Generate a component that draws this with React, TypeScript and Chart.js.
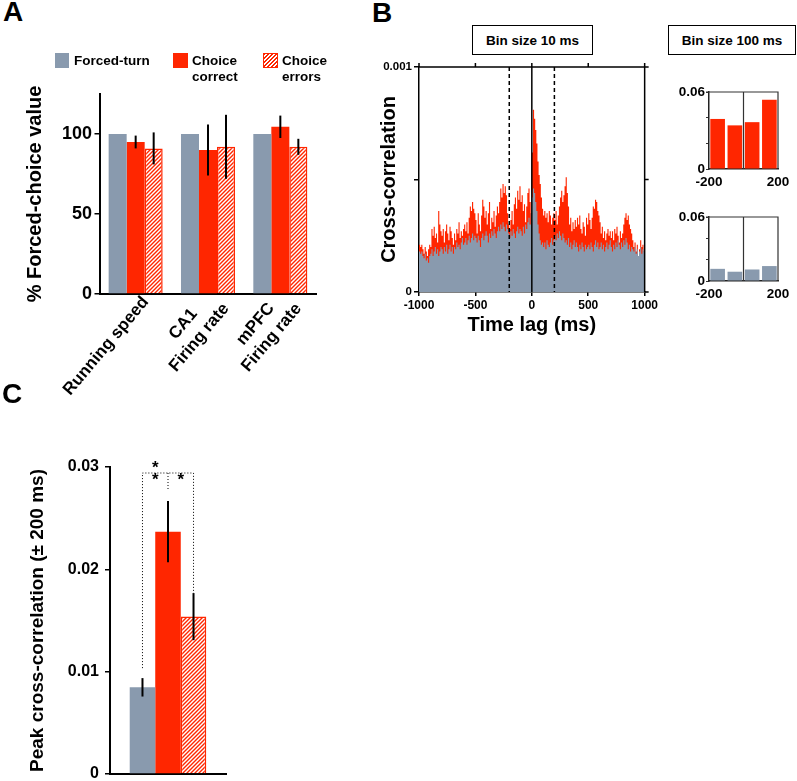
import React, { useEffect, useRef } from 'react';
import { Chart, registerables } from 'chart.js';

Chart.register(...registerables);

const FONT = '"Liberation Sans", Arial, Helvetica, sans-serif';
const RED = 'rgb(255,38,0)';
const GRAY = 'rgb(137,154,174)';

// ---------- Panel A ----------
const measuresA = [['Running speed'], ['CA1', 'Firing rate'], ['mPFC', 'Firing rate']];
const forcedTurnA = [100, 100, 100];
const choiceCorrectA = [95, 90, 104.5];
const choiceErrorsA = [91, 92, 92];
const choiceCorrectErrA = [4, 16, 7];
const choiceErrorsErrA = [10, 20, 5];
const yTicksA = [0, 50, 100];

// ---------- Panel B (10 ms bins from -1000 to +1000 ms, values x 1e-3) ----------
const choiceXcorr10 = [
  0.21, 0.20, 0.21, 0.19, 0.17, 0.20, 0.18, 0.16, 0.19, 0.21,
  0.20, 0.28, 0.25, 0.29, 0.24, 0.26, 0.22, 0.36, 0.30, 0.27,
  0.25, 0.28, 0.22, 0.27, 0.30, 0.26, 0.23, 0.29, 0.27, 0.24,
  0.21, 0.26, 0.23, 0.28, 0.26, 0.31, 0.24, 0.27, 0.25, 0.28,
  0.30, 0.27, 0.31, 0.26, 0.33, 0.38, 0.36, 0.40, 0.37, 0.35,
  0.32, 0.26, 0.35, 0.30, 0.27, 0.34, 0.41, 0.38, 0.33, 0.36,
  0.30, 0.35, 0.40, 0.28, 0.33, 0.31, 0.36, 0.29, 0.34, 0.38,
  0.35, 0.40, 0.46, 0.42, 0.48, 0.44, 0.47, 0.43, 0.35, 0.30,
  0.28, 0.32, 0.36, 0.30, 0.39, 0.42, 0.37, 0.45, 0.41, 0.47,
  0.40, 0.43, 0.36, 0.39, 0.31, 0.38, 0.44, 0.46, 0.40, 0.35,
  0.62, 0.81, 0.77, 0.72, 0.66, 0.58, 0.52, 0.48, 0.42, 0.37,
  0.34, 0.36, 0.33, 0.35, 0.31, 0.36, 0.34, 0.30, 0.33, 0.35,
  0.32, 0.36, 0.30, 0.34, 0.38, 0.42, 0.45, 0.40, 0.43, 0.47,
  0.51, 0.44, 0.38, 0.30, 0.33, 0.27, 0.31, 0.28, 0.32, 0.29,
  0.33, 0.30, 0.34, 0.28, 0.26, 0.31, 0.29, 0.25, 0.33, 0.30,
  0.35, 0.32, 0.28, 0.33, 0.38, 0.37, 0.41, 0.40, 0.36, 0.34,
  0.31, 0.26, 0.29, 0.24, 0.27, 0.23, 0.26, 0.28, 0.25, 0.27,
  0.24, 0.27, 0.23, 0.28, 0.26, 0.29, 0.25, 0.22, 0.27, 0.24,
  0.26, 0.30, 0.33, 0.35, 0.32, 0.34, 0.30, 0.28, 0.26, 0.23,
  0.20, 0.22, 0.18, 0.21, 0.16, 0.19, 0.23, 0.20, 0.21, 0.18,
];
const forcedXcorr10 = [
  0.18, 0.17, 0.18, 0.16, 0.15, 0.17, 0.14, 0.15, 0.13, 0.16,
  0.17, 0.19, 0.16, 0.18, 0.20, 0.17, 0.19, 0.16, 0.18, 0.20,
  0.19, 0.17, 0.20, 0.18, 0.21, 0.17, 0.19, 0.21, 0.18, 0.20,
  0.17, 0.20, 0.19, 0.22, 0.20, 0.21, 0.19, 0.22, 0.24, 0.21,
  0.22, 0.24, 0.21, 0.23, 0.25, 0.22, 0.24, 0.26, 0.23, 0.25,
  0.24, 0.22, 0.25, 0.23, 0.20, 0.24, 0.26, 0.23, 0.25, 0.27,
  0.25, 0.22, 0.26, 0.24, 0.27, 0.25, 0.28, 0.26, 0.24, 0.27,
  0.29, 0.27, 0.30, 0.28, 0.31, 0.29, 0.27, 0.30, 0.28, 0.26,
  0.24, 0.27, 0.25, 0.28, 0.26, 0.24, 0.27, 0.29, 0.26, 0.28,
  0.27, 0.25, 0.29, 0.26, 0.30, 0.28, 0.31, 0.33, 0.30, 0.35,
  0.42, 0.46, 0.44, 0.40, 0.36, 0.30, 0.26, 0.23, 0.21, 0.22,
  0.20, 0.22, 0.19, 0.23, 0.21, 0.20, 0.22, 0.24, 0.21, 0.23,
  0.25, 0.23, 0.26, 0.24, 0.27, 0.25, 0.23, 0.26, 0.24, 0.22,
  0.23, 0.21, 0.24, 0.20, 0.22, 0.19, 0.21, 0.23, 0.20, 0.22,
  0.20, 0.18, 0.21, 0.19, 0.22, 0.20, 0.18, 0.21, 0.19, 0.20,
  0.21, 0.19, 0.22, 0.20, 0.18, 0.21, 0.23, 0.20, 0.22, 0.19,
  0.20, 0.22, 0.19, 0.21, 0.18, 0.20, 0.22, 0.19, 0.21, 0.23,
  0.20, 0.18, 0.21, 0.19, 0.22, 0.20, 0.23, 0.21, 0.19, 0.22,
  0.20, 0.23, 0.21, 0.24, 0.22, 0.19, 0.21, 0.18, 0.20, 0.19,
  0.18, 0.20, 0.17, 0.19, 0.16, 0.18, 0.20, 0.17, 0.19, 0.18,
];
const lagStartMs = -1000;
const lagEndMs = 1000;
const binMs = 10;
const peakWindowMs = [-200, 200];

// 100 ms bins (-200..200 ms)
const lags100 = [-150, -50, 50, 150];
const choiceXcorr100 = [0.039, 0.034, 0.0365, 0.054];
const forcedXcorr100 = [0.0114, 0.0087, 0.0108, 0.014];

// ---------- Panel C ----------
const groupsC = ['Forced-turn', 'Choice correct', 'Choice errors'];
const peakXcorrC = [0.00847, 0.02368, 0.01538];
const peakXcorrErrC = [0.0009, 0.003, 0.0023];
const sigPairsC: [number, number, number][] = [[0, 1, 2], [1, 2, 1]];

function makeHatch(color: string) {
  const c = document.createElement('canvas');
  c.width = 4;
  c.height = 4;
  const g = c.getContext('2d')!;
  g.fillStyle = '#fff';
  g.fillRect(0, 0, 4, 4);
  g.strokeStyle = color;
  g.lineWidth = 1.4;
  g.beginPath();
  g.moveTo(0, 4); g.lineTo(4, 0);
  g.moveTo(-1, 1); g.lineTo(1, -1);
  g.moveTo(3, 5); g.lineTo(5, 3);
  g.stroke();
  return g.createPattern(c, 'repeat')!;
}

const errorBars = (errs: number[][], lw: number) => ({
  id: 'errorBars',
  afterDatasetsDraw(chart: any) {
    const { ctx } = chart;
    const y = chart.scales.y;
    ctx.save();
    ctx.strokeStyle = '#000';
    ctx.lineWidth = lw;
    chart.data.datasets.forEach((ds: any, di: number) => {
      const meta = chart.getDatasetMeta(di);
      meta.data.forEach((bar: any, i: number) => {
        const e = errs[di] ? errs[di][i] : 0;
        if (!e) return;
        const v = ds.data[i] as number;
        ctx.beginPath();
        ctx.moveTo(bar.x, y.getPixelForValue(v - e));
        ctx.lineTo(bar.x, y.getPixelForValue(v + e));
        ctx.stroke();
      });
    });
    ctx.restore();
  },
});

const rotatedLabels = (cats: string[][]) => ({
  id: 'rotatedLabels',
  afterDraw(chart: any) {
    const { ctx } = chart;
    const x = chart.scales.x;
    const ang = (-50 * Math.PI) / 180;
    ctx.save();
    ctx.font = `bold 17px ${FONT}`;
    ctx.fillStyle = '#000';
    ctx.textAlign = 'center';
    ctx.textBaseline = 'middle';
    cats.forEach((lines, i) => {
      const w = Math.max(...lines.map((l) => ctx.measureText(l).width));
      const ax = x.getPixelForTick(i) + 10;
      const ay = x.top + 5;
      const cx = ax - (Math.cos(ang) * w) / 2;
      const cy = ay - (Math.sin(ang) * w) / 2;
      ctx.save();
      ctx.translate(cx, cy);
      ctx.rotate(ang);
      lines.forEach((l, k) => ctx.fillText(l, 0, (k - (lines.length - 1) / 2) * 21));
      ctx.restore();
    });
    ctx.restore();
  },
});

const frameMain = {
  id: 'frameMain',
  afterDatasetsDraw(chart: any) {
    const { ctx, chartArea: a } = chart;
    const x = chart.scales.x;
    ctx.save();
    ctx.strokeStyle = '#000';
    ctx.lineWidth = 1.5;
    const z = x.getPixelForValue(0);
    ctx.beginPath();
    ctx.moveTo(z, a.top);
    ctx.lineTo(z, a.bottom);
    ctx.stroke();
    ctx.setLineDash([4, 3]);
    peakWindowMs.forEach((v) => {
      const px = x.getPixelForValue(v);
      ctx.beginPath();
      ctx.moveTo(px, a.top);
      ctx.lineTo(px, a.bottom);
      ctx.stroke();
    });
    ctx.restore();
  },
  afterDraw(chart: any) {
    const { ctx, chartArea: a } = chart;
    const x = chart.scales.x;
    const y = chart.scales.y;
    ctx.save();
    ctx.strokeStyle = '#000';
    ctx.lineWidth = 1.5;
    ctx.beginPath();
    ctx.moveTo(a.left - 1, a.top);
    ctx.lineTo(a.right + 4, a.top);
    ctx.moveTo(a.right, a.top);
    ctx.lineTo(a.right, a.bottom);
    x.ticks.forEach((t: any) => {
      const px = x.getPixelForValue(t.value);
      ctx.moveTo(px, a.top);
      ctx.lineTo(px, a.top - 4);
    });
    y.ticks.forEach((t: any) => {
      const py = y.getPixelForValue(t.value);
      ctx.moveTo(a.right, py);
      ctx.lineTo(a.right + 4, py);
    });
    ctx.stroke();
    ctx.restore();
  },
};

const frameSmall = {
  id: 'frameSmall',
  afterDraw(chart: any) {
    const { ctx, chartArea: a } = chart;
    const x = chart.scales.x;
    ctx.save();
    ctx.strokeStyle = '#333';
    ctx.lineWidth = 1.2;
    ctx.beginPath();
    ctx.moveTo(a.left - 3, a.top);
    ctx.lineTo(a.right, a.top);
    ctx.lineTo(a.right, a.bottom);
    const z = x.getPixelForValue(0);
    ctx.moveTo(z, a.top);
    ctx.lineTo(z, a.bottom);
    ctx.stroke();
    ctx.restore();
  },
};

const sigPlugin = {
  id: 'sig',
  afterDatasetsDraw(chart: any) {
    const { ctx, chartArea: a } = chart;
    const y = chart.scales.y;
    const xs = groupsC.map((_, i) => chart.getDatasetMeta(i).data[0].x);
    const tops = peakXcorrC.map((v, i) => y.getPixelForValue(v + peakXcorrErrC[i]));
    const by = a.top + 6;
    const gaps = [10, 10, 0];
    ctx.save();
    ctx.strokeStyle = '#000';
    ctx.lineWidth = 1;
    ctx.setLineDash([1, 2]);
    ctx.beginPath();
    ctx.moveTo(xs[0], tops[0] - gaps[0]);
    ctx.lineTo(xs[0], by);
    ctx.lineTo(xs[2], by);
    ctx.lineTo(xs[2], tops[2] - gaps[2]);
    ctx.moveTo(xs[1], by);
    ctx.lineTo(xs[1], tops[1] - gaps[1]);
    ctx.stroke();
    ctx.setLineDash([]);
    ctx.fillStyle = '#000';
    ctx.font = `bold 17px ${FONT}`;
    ctx.textAlign = 'center';
    ctx.textBaseline = 'alphabetic';
    sigPairsC.forEach(([i, j, n]) => {
      const cx = (xs[i] + xs[j]) / 2;
      for (let k = 0; k < n; k++) {
        const cy = by + 2 - k * 12;
        ctx.fillText('*', cx, cy + 9.8);
      }
    });
    ctx.restore();
  },
};

const stepData = (vals: number[]) => [
  ...vals.map((v, i) => ({ x: lagStartMs + i * binMs, y: v * 1e-3 })),
  { x: lagEndMs, y: vals[vals.length - 1] * 1e-3 },
];

const boldFont = (size: number) => ({ size, weight: 'bold' as const, family: FONT });

export default function App() {
  const refA = useRef<HTMLCanvasElement>(null);
  const refB = useRef<HTMLCanvasElement>(null);
  const refB1 = useRef<HTMLCanvasElement>(null);
  const refB2 = useRef<HTMLCanvasElement>(null);
  const refC = useRef<HTMLCanvasElement>(null);

  useEffect(() => {
    Chart.defaults.font.family = FONT;
    Chart.defaults.color = '#000';
    const hatch = makeHatch(RED);
    const charts: Chart[] = [];

    // Panel A
    charts.push(
      new Chart(refA.current!, {
        type: 'bar',
        data: {
          labels: measuresA.map((l) => l.join(' ')),
          datasets: [
            { label: 'Forced-turn', data: forcedTurnA, backgroundColor: GRAY, borderWidth: 0, categoryPercentage: 0.747, barPercentage: 1 },
            { label: 'Choice correct', data: choiceCorrectA, backgroundColor: RED, borderWidth: 0, categoryPercentage: 0.747, barPercentage: 1 },
            { label: 'Choice errors', data: choiceErrorsA, backgroundColor: hatch, borderColor: RED, borderWidth: 1.5, categoryPercentage: 0.747, barPercentage: 1 },
          ],
        },
        options: {
          responsive: false,
          animation: false,
          layout: { padding: { left: 0, top: 14, right: 18.5, bottom: 0 } },
          plugins: { legend: { display: false }, tooltip: { enabled: false } },
          scales: {
            x: {
              grid: { display: false },
              ticks: { display: false },
              border: { color: '#000', width: 2 },
              afterFit: (s: any) => { s.height = 106; },
            },
            y: {
              min: 0,
              max: 125,
              afterBuildTicks: (s: any) => { s.ticks = yTicksA.map((v) => ({ value: v })); },
              ticks: { font: boldFont(18), padding: 2.5, callback: (v: any) => String(v) },
              grid: { drawOnChartArea: false, tickLength: 5, color: '#000', lineWidth: 1.5 },
              border: { color: '#000', width: 2 },
              title: { display: true, text: '% Forced-choice value', font: boldFont(20), padding: { top: 23, bottom: 0 } },
              afterFit: (s: any) => { s.width = 99.5; },
            },
          },
        } as any,
        plugins: [errorBars([[0, 0, 0], choiceCorrectErrA, choiceErrorsErrA], 2), rotatedLabels(measuresA)],
      })
    );

    // Panel B main
    charts.push(
      new Chart(refB.current!, {
        type: 'line',
        data: {
          datasets: [
            { label: 'Forced-turn', data: stepData(forcedXcorr10), stepped: 'before', fill: 'origin', backgroundColor: GRAY, borderColor: 'rgba(0,0,0,0)', borderWidth: 0, pointRadius: 0 },
            { label: 'Choice correct', data: stepData(choiceXcorr10), stepped: 'before', fill: 'origin', backgroundColor: RED, borderColor: 'rgba(0,0,0,0)', borderWidth: 0, pointRadius: 0 },
          ],
        },
        options: {
          responsive: false,
          animation: false,
          layout: { padding: { left: 0, top: 9, right: 14, bottom: 0 } },
          plugins: { legend: { display: false }, tooltip: { enabled: false } },
          scales: {
            x: {
              type: 'linear',
              min: lagStartMs,
              max: lagEndMs,
              ticks: { stepSize: 500, font: boldFont(12), padding: 2, maxRotation: 0, callback: (v: any) => String(v) },
              grid: { drawOnChartArea: false, tickLength: 4, color: '#000', lineWidth: 1.5 },
              border: { color: '#000', width: 1.5 },
              title: { display: true, text: 'Time lag (ms)', font: boldFont(20), padding: { top: 0, bottom: 8 } },
              afterFit: (s: any) => { s.height = 53; },
            },
            y: {
              min: 0,
              max: 0.001,
              ticks: {
                stepSize: 0.0005,
                font: boldFont(11.5),
                padding: 2,
                callback: (v: any) => (Math.abs(v) < 1e-12 ? '0' : Math.abs(v - 0.001) < 1e-12 ? '0.001' : ''),
              },
              grid: { drawOnChartArea: false, tickLength: 5, color: '#000', lineWidth: 1.5 },
              border: { color: '#000', width: 1.5 },
              title: { display: true, text: 'Cross-correlation', font: boldFont(20), padding: { top: 17, bottom: 0 } },
              afterFit: (s: any) => { s.width = 59; },
            },
          },
        } as any,
        plugins: [frameMain],
      })
    );

    // Panel B small charts
    const small = (canvas: HTMLCanvasElement, vals: number[], color: string, axisH: number) =>
      new Chart(canvas, {
        type: 'bar',
        data: {
          datasets: [
            {
              data: lags100.map((l, i) => ({ x: l, y: vals[i] })),
              backgroundColor: color,
              borderWidth: 0,
              categoryPercentage: 0.85,
              barPercentage: 1,
            },
          ],
        },
        options: {
          responsive: false,
          animation: false,
          layout: { padding: { left: 0, top: 12, right: 19, bottom: 0 } },
          plugins: { legend: { display: false }, tooltip: { enabled: false } },
          scales: {
            x: {
              type: 'linear',
              min: -200,
              max: 200,
              offset: false,
              ticks: { stepSize: 200, font: boldFont(13.5), padding: 5, maxRotation: 0, callback: (v: any) => (v === 0 ? '' : String(v)) },
              grid: { display: false, drawTicks: false, offset: false },
              border: { color: '#222', width: 1.5 },
              afterFit: (s: any) => { s.height = axisH; },
            },
            y: {
              min: 0,
              max: 0.06,
              ticks: {
                stepSize: 0.02,
                font: boldFont(13.5),
                padding: 1,
                callback: (v: any) => (Math.abs(v) < 1e-9 ? '0' : Math.abs(v - 0.06) < 1e-9 ? '0.06' : ''),
              },
              grid: { drawOnChartArea: false, tickLength: 3, color: '#333', lineWidth: 1 },
              border: { color: '#222', width: 1.5 },
              afterFit: (s: any) => { s.width = 49; },
            },
          },
        } as any,
        plugins: [frameSmall],
      });
    charts.push(small(refB1.current!, choiceXcorr100, RED, 26));
    charts.push(small(refB2.current!, forcedXcorr100, GRAY, 27));

    // Panel C
    charts.push(
      new Chart(refC.current!, {
        type: 'bar',
        data: {
          labels: [''],
          datasets: groupsC.map((g, i) => ({
            label: g,
            data: [peakXcorrC[i]],
            backgroundColor: [GRAY, RED, hatch][i],
            borderColor: RED,
            borderWidth: i === 2 ? 1.5 : 0,
            categoryPercentage: 0.66,
            barPercentage: 1,
          })),
        },
        options: {
          responsive: false,
          animation: false,
          layout: { padding: { left: 0, top: 27, right: 14, bottom: 0 } },
          plugins: { legend: { display: false }, tooltip: { enabled: false } },
          scales: {
            x: {
              grid: { display: false },
              ticks: { display: false },
              border: { color: '#000', width: 2 },
              afterFit: (s: any) => { s.height = 16; },
            },
            y: {
              min: 0,
              max: 0.03,
              ticks: { stepSize: 0.01, font: boldFont(16), padding: 6, callback: (v: any) => (Math.abs(v) < 1e-12 ? '0' : Number(v).toFixed(2)) },
              grid: { drawOnChartArea: false, tickLength: 5, color: '#000', lineWidth: 1.5 },
              border: { color: '#000', width: 2 },
              title: { display: true, text: 'Peak cross-correlation (± 200 ms)', font: boldFont(19), padding: { top: 26.6, bottom: 0 } },
              afterFit: (s: any) => { s.width = 110; },
            },
          },
        } as any,
        plugins: [errorBars(peakXcorrErrC.map((e) => [e]), 2), sigPlugin],
      })
    );

    return () => charts.forEach((c) => c.destroy());
  }, []);

  const abs = (left: number, top: number, extra: React.CSSProperties = {}): React.CSSProperties => ({
    position: 'absolute',
    left,
    top,
    ...extra,
  });
  const letter: React.CSSProperties = { fontSize: 28, fontWeight: 'bold', lineHeight: '28px' };
  const legText: React.CSSProperties = { fontSize: 13.5, fontWeight: 'bold', lineHeight: '16px', whiteSpace: 'nowrap' };
  const boxStyle: React.CSSProperties = {
    boxSizing: 'border-box',
    border: '1.5px solid #000',
    height: 30,
    display: 'flex',
    alignItems: 'center',
    justifyContent: 'center',
    fontSize: 13.5,
    fontWeight: 'bold',
    whiteSpace: 'nowrap',
  };
  const hatchCss = `repeating-linear-gradient(135deg, ${RED} 0px, ${RED} 1.4px, #fff 1.4px, #fff 2.8px)`;

  return (
    <div
      style={{
        position: 'absolute',
        left: 0,
        top: 0,
        width: 797,
        height: 781,
        overflow: 'hidden',
        background: '#fff',
        fontFamily: FONT,
        color: '#000',
      }}
    >
      <canvas ref={refA} width={335} height={320} style={abs(0, 80)} />
      <canvas ref={refB} width={300} height={287} style={abs(360, 58)} />
      <canvas ref={refB1} width={137} height={115} style={abs(660, 80)} />
      <canvas ref={refB2} width={137} height={103} style={abs(660, 205)} />
      <canvas ref={refC} width={240} height={350} style={abs(0, 440)} />

      <div style={abs(3, -2, letter)}>A</div>
      <div style={abs(372, -1, letter)}>B</div>
      <div style={abs(2, 380, letter)}>C</div>

      {/* Legend panel A */}
      <div style={abs(55, 53, { width: 14, height: 15, background: GRAY })} />
      <div style={abs(74, 53, legText)}>Forced-turn</div>
      <div style={abs(173, 53, { width: 15, height: 15, background: RED })} />
      <div style={abs(192, 53, legText)}>Choice<br />correct</div>
      <div style={abs(263, 53, { width: 15, height: 15, boxSizing: 'border-box', border: `1.5px solid ${RED}`, background: hatchCss })} />
      <div style={abs(282, 53, legText)}>Choice<br />errors</div>

      <div style={abs(472, 25, { ...boxStyle, width: 121 })}>Bin size 10 ms</div>
      <div style={abs(668, 25, { ...boxStyle, width: 128 })}>Bin size 100 ms</div>
    </div>
  );
}
